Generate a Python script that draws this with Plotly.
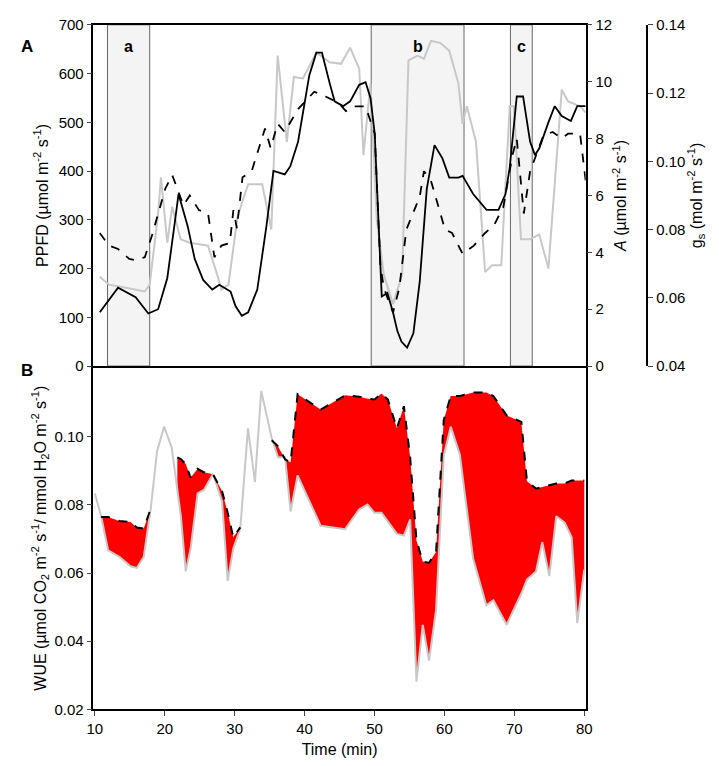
import plotly.graph_objects as go

# ---- Panel A data ----
ppfd_t = [10.9,12.2,14.8,17.3,18,19.2,19.6,20.5,21.2,22.4,23.7,26.3,27.6,28.2,29.2,30.5,32,34,35.3,36.2,37.5,38.5,39.8,41.7,43.6,45.2,46.5,47.8,48.4,49.4,50.3,51.3,52.6,53.9,54.8,56.1,57,58,59.3,60.6,61.9,62.5,63.1,64.4,65.7,66.7,68,69.2,69.8,70.8,72.1,73.4,74.7,75.3,76.6,77.5,79.2,80]
ppfd_v = [183,167,160,153,167,313,387,253,327,260,253,247,187,157,167,307,373,373,280,637,460,593,590,643,623,620,653,610,433,580,300,187,127,187,627,637,630,667,663,647,580,497,533,460,193,207,207,533,533,260,260,270,200,320,567,543,533,520]

a_t = [10.9,13.5,16,17.8,19.2,20.5,21.5,22.1,23.4,24.4,25.6,26.9,27.9,29.5,30.2,31.1,32,33.3,34.6,35.6,37.2,38,39.1,40.7,41.7,42.5,43.6,44.3,45.5,46.5,47.8,48.7,49.4,50,51,51.8,52.6,53.2,53.8,54.6,55.5,56.4,57.4,58.5,59.6,60.6,61.9,62.5,64,65.9,67.6,68.6,69.2,70.2,71.1,72.1,72.8,73.4,74.7,75.6,76.6,77.9,78.8,80]
a_v = [1.89,2.76,2.42,1.85,2.0,3.09,4.92,6.05,4.92,3.77,3.03,2.69,2.86,2.62,2.11,1.77,1.89,2.69,4.92,6.86,6.74,7.03,7.89,10.23,11.02,11.02,9.94,9.31,9.14,9.31,9.89,9.98,9.43,8.18,2.45,2.57,1.89,1.25,0.86,0.65,1.15,2.97,6.22,7.77,7.32,6.63,6.63,6.69,6.05,5.49,5.49,6.05,6.98,9.48,9.48,7.89,7.42,7.66,8.57,9.14,8.79,8.62,9.14,9.14]

gs_t = [10.9,12.2,13.5,15.1,16,17.3,18.3,19.2,20.2,21.2,22.8,23.7,25,26.3,27.2,28.2,29.4,29.9,30.4,31.2,32.5,34.4,35.2,36.2,37.2,39.1,41.4,43,44.9,45.9,46.9,48.7,50,50.8,51.3,52.6,53.5,54.5,56.4,57,58,60,61,62.5,64.1,65.7,67,68.3,69.6,70.2,71.2,72.1,73.4,74,75.3,76.6,77.5,79.2,80]
gs_v = [0.079,0.0753,0.0743,0.0714,0.071,0.0719,0.0781,0.0847,0.0919,0.096,0.0871,0.09,0.0857,0.0847,0.0719,0.0753,0.0761,0.0857,0.0804,0.0953,0.0971,0.1096,0.1039,0.111,0.1086,0.1153,0.1204,0.119,0.1171,0.1147,0.1161,0.1161,0.1081,0.0696,0.0629,0.0557,0.0629,0.08,0.0896,0.0971,0.0943,0.08,0.079,0.0729,0.0753,0.079,0.0814,0.0867,0.1019,0.1067,0.0847,0.0971,0.1039,0.1076,0.1086,0.1067,0.1081,0.1081,0.0943]

periods = [("a", 12, 18), ("b", 49.5, 62.7), ("c", 69.3, 72.4)]

# ---- Panel B data ----
wue_t = [10,10.9,11.9,13.5,15.1,16,17,18,18.9,19.9,21,21.8,22.3,23,23.7,24.7,25.6,26.9,28.2,29,29.8,30.8,31.9,32.9,33.8,35.3,36.2,37.2,38,39,42.3,45.8,47.8,49,50,51,51.9,53.2,54.2,55.1,56,56.9,57.8,58.8,59.9,60.9,62.2,64.1,66,67,68.9,71,71.8,73.1,74,75,76,77.2,78.2,79,80]
wue_low = [0.0834,0.0767,0.0667,0.0648,0.062,0.0615,0.0648,0.079,0.0958,0.103,0.0968,0.0853,0.0767,0.0605,0.0672,0.0834,0.0844,0.0891,0.081,0.0577,0.0672,0.073,0.1025,0.0868,0.1135,0.0996,0.094,0.094,0.0781,0.0887,0.0739,0.0729,0.0787,0.0801,0.0777,0.0777,0.0753,0.0715,0.071,0.0758,0.0281,0.0448,0.0343,0.0491,0.0944,0.103,0.0948,0.0643,0.0505,0.052,0.0448,0.054,0.0581,0.0605,0.0691,0.0591,0.0767,0.0748,0.0705,0.0453,0.061]
wue_high = [None,0.0765,0.0765,0.0753,0.075,0.0734,0.0731,0.079,None,None,None,0.094,0.0935,0.092,0.088,0.0906,0.0896,0.089,0.084,0.0777,0.0705,0.0734,None,0.0892,None,0.099,0.0972,0.0934,0.0925,0.1125,0.108,0.1122,0.1118,0.1112,0.111,0.1127,0.111,0.1025,0.109,0.094,0.0696,0.0634,0.063,0.0662,0.1049,0.112,0.112,0.113,0.113,0.112,0.1063,0.1044,0.087,0.0848,0.0853,0.0858,0.0863,0.0863,0.0872,0.0872,0.0872]

FONT = "Liberation Sans Narrow, Liberation Sans, Arial"
fig = go.Figure()

for lab, x0, x1 in periods:
    fig.add_shape(type="rect", xref="x", yref="y", x0=x0, x1=x1, y0=0, y1=700,
                  fillcolor="#f4f4f4", line=dict(color="#666666", width=1), layer="below")
    fig.add_annotation(x=(x0 + x1) / 2, y=655, xref="x", yref="y", text="<b>%s</b>" % lab,
                       showarrow=False, font=dict(size=16, color="black", family="Liberation Sans"))

fig.add_trace(go.Scatter(x=ppfd_t, y=ppfd_v, mode="lines", line=dict(color="#c8c8c8", width=2),
                         xaxis="x", yaxis="y", showlegend=False))
fig.add_trace(go.Scatter(x=a_t, y=a_v, mode="lines", line=dict(color="black", width=1.8),
                         xaxis="x", yaxis="y2", showlegend=False))
fig.add_trace(go.Scatter(x=gs_t, y=gs_v, mode="lines", line=dict(color="black", width=1.8, dash="dash"),
                         xaxis="x", yaxis="y3", showlegend=False))

segs, cur = [], []
for t, lo, hi in zip(wue_t, wue_low, wue_high):
    if hi is None:
        if cur:
            segs.append(cur); cur = []
    else:
        cur.append((t, lo, hi))
if cur:
    segs.append(cur)
for s in segs:
    xs = [p[0] for p in s] + [p[0] for p in reversed(s)]
    ys = [p[2] for p in s] + [p[1] for p in reversed(s)]
    fig.add_trace(go.Scatter(x=xs, y=ys, fill="toself", fillcolor="#ff0000", mode="none",
                             xaxis="x2", yaxis="y4", showlegend=False))
fig.add_trace(go.Scatter(x=wue_t, y=wue_low, mode="lines", line=dict(color="#c8c8c8", width=2),
                         xaxis="x2", yaxis="y4", showlegend=False))
fig.add_trace(go.Scatter(x=wue_t, y=wue_high, mode="lines", connectgaps=False,
                         line=dict(color="black", width=2, dash="dash"),
                         xaxis="x2", yaxis="y4", showlegend=False))

tickf = dict(size=15, color="black", family=FONT)
titf = dict(size=16, color="black", family="Liberation Sans, Arial")
xd = [80/719, 582/719]
common = dict(showgrid=False, zeroline=False, ticks="outside", ticklen=5, tickfont=tickf,
              linecolor="black", linewidth=1.5, ticklabeloverflow="allow")
fig.update_layout(
    width=719, height=766, margin=dict(l=0, r=0, t=0, b=0),
    plot_bgcolor="white", paper_bgcolor="white",
    xaxis=dict(domain=xd, anchor="y", range=[10, 80], showticklabels=False, ticks="",
               showline=True, linecolor="black", linewidth=1.5, mirror=True, showgrid=False, zeroline=False),
    yaxis=dict(domain=[1-357/766, 1-8/766], range=[0, 700], tickvals=[0,100,200,300,400,500,600,700], showline=True,
               title=dict(text="PPFD (µmol m<sup>-2</sup> s<sup>-1</sup>)", font=titf, standoff=6), **common),
    yaxis2=dict(overlaying="y", side="right", anchor="x", range=[0, 12], tickvals=[0,2,4,6,8,10,12], showline=True,
                title=dict(text="<i>A</i> (µmol m<sup>-2</sup> s<sup>-1</sup>)", font=titf, standoff=4), **common),
    yaxis3=dict(overlaying="y", side="right", anchor="free", position=645/719, range=[0.04, 0.14],
                tickvals=[0.04,0.06,0.08,0.10,0.12,0.14], tickformat=".2f", showline=True,
                title=dict(text="g<sub>s</sub> (mol m<sup>-2</sup> s<sup>-1</sup>)", font=titf, standoff=4), **common),
    xaxis2=dict(domain=xd, anchor="y4", range=[9.8, 80.2], dtick=10, showline=True,
                title=dict(text="Time (min)", font=titf, standoff=8), **common),
    yaxis4=dict(domain=[1-708/766, 1-358/766], anchor="x2", range=[0.02, 0.1205], tickvals=[0.02,0.04,0.06,0.08,0.10],
                tickformat=".2f", showline=True, mirror=True,
                title=dict(text="WUE (µmol CO<sub>2</sub> m<sup>-2</sup> s<sup>-1</sup>/ mmol H<sub>2</sub>O m<sup>-2</sup> s<sup>-1</sup>)",
                           font=titf, standoff=4), **common),
)
fig.add_annotation(x=0.005, y=1-18/766, xref="paper", yref="paper", text="<b>A</b>", showarrow=False,
                   font=dict(size=17, color="black", family="Liberation Sans"), xanchor="left")
fig.add_annotation(x=0.005, y=1-362/766, xref="paper", yref="paper", text="<b>B</b>", showarrow=False,
                   font=dict(size=17, color="black", family="Liberation Sans"), xanchor="left")
fig.write_html("out.html")
